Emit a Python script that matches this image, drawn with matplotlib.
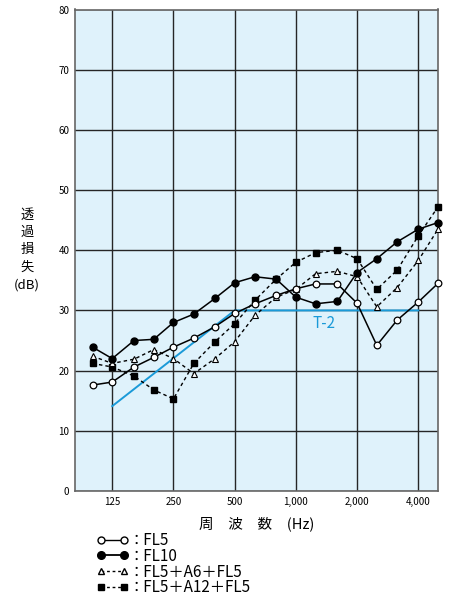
import matplotlib.pyplot as plt
from matplotlib.lines import Line2D

plt.rcParams['font.family'] = ['Noto Sans CJK JP', 'DejaVu Sans']

# 1/3 octave band centre frequencies (Hz)
freqs = [100, 125, 160, 200, 250, 315, 400, 500, 630, 800,
         1000, 1250, 1600, 2000, 2500, 3150, 4000, 5000]

fl5 = [17.6, 18.1, 20.6, 22.2, 23.9, 25.4, 27.3, 29.5, 31.1, 32.5,
       33.6, 34.4, 34.4, 31.2, 24.2, 28.4, 31.4, 34.5]
fl10 = [23.9, 22.0, 25.0, 25.2, 28.0, 29.4, 32.0, 34.6, 35.6, 35.2,
        32.2, 31.1, 31.5, 36.3, 38.6, 41.4, 43.5, 44.6]
fl5_a6 = [22.4, 21.2, 21.9, 23.5, 22.0, 19.5, 22.0, 24.8, 29.2, 32.2,
          33.5, 36.1, 36.5, 35.6, 30.6, 33.8, 38.3, 43.5]
fl5_a12 = [21.2, 20.6, 19.1, 16.8, 15.3, 21.2, 24.8, 27.8, 31.7, 35.2,
           38.0, 39.6, 40.0, 38.6, 33.5, 36.7, 42.4, 47.2]

# T-2 grade curve
t2_freqs = [125, 500, 4000]
t2_vals = [14.1, 30, 30]

xticks = [125, 250, 500, 1000, 2000, 4000]
xtick_labels = ['125', '250', '500', '1,000', '2,000', '4,000']
yticks = list(range(0, 81, 10))

blue = '#1a9ad8'
dash = (0, (2.5, 2.2))

fig = plt.figure(figsize=(4.51, 6.05), dpi=100)
ax = fig.add_axes([75 / 451, 1 - 491 / 605, 363 / 451, 481.5 / 605])
ax.set_facecolor('#dff2fb')

ax.set_xscale('log')
ax.set_xlim(82, 5000)
ax.set_ylim(0, 80)
ax.set_xticks(xticks)
ax.set_xticklabels(xtick_labels)
ax.minorticks_off()
ax.set_yticks(yticks)
ax.tick_params(length=0, labelsize=7, pad=4)
ax.grid(True, color='#262626', lw=1)
ax.set_axisbelow(True)
for s in ax.spines.values():
    s.set_color('#666666')
    s.set_linewidth(1.2)

ax.plot(t2_freqs, t2_vals, color=blue, lw=1.4, zorder=2)
ax.text(1370, 27.9, 'T-2', color=blue, fontsize=11, ha='center', va='center')

ax.plot(freqs, fl5_a12, color='black', lw=1, ls=dash, marker='s',
        ms=4.3, mfc='black', zorder=3, clip_on=False)
ax.plot(freqs, fl5_a6, color='black', lw=1, ls=dash, marker='^',
        ms=4.6, mfc='white', mew=0.8, zorder=4, clip_on=False)
ax.plot(freqs, fl10, color='black', lw=1.1, marker='o', ms=5,
        mfc='black', zorder=5, clip_on=False)
ax.plot(freqs, fl5, color='black', lw=1.1, marker='o', ms=4.8,
        mfc='white', mew=0.9, zorder=6, clip_on=False)

ax.set_xlabel('周\u3000波\u3000数\u3000(Hz)', fontsize=10.5, labelpad=7)
fig.text(27 / 451, 1 - 250 / 605, '透\n過\n損\n失\n(dB)', fontsize=9.5,
         ha='center', va='center', linespacing=1.45)

handles = [
    Line2D([], [], color='black', lw=1, marker='o', ms=5, mfc='white'),
    Line2D([], [], color='black', lw=1.3, marker='o', ms=5.5, mfc='black'),
    Line2D([], [], color='black', lw=1, ls=(0, (2, 2)), marker='^', ms=4, mfc='white'),
    Line2D([], [], color='black', lw=1, ls=(0, (2, 2)), marker='s', ms=4, mfc='black'),
]
labels = ['：FL5', '：FL10', '：FL5＋A6＋FL5', '：FL5＋A12＋FL5']
fig.legend(handles, labels, loc='upper left', bbox_to_anchor=(96 / 451, 1 - 532 / 605),
           frameon=False, numpoints=2, handlelength=2.1, handletextpad=0.05,
           labelspacing=-0.08, fontsize=11, borderaxespad=0, borderpad=0)

fig.savefig('out.png', dpi=100)
